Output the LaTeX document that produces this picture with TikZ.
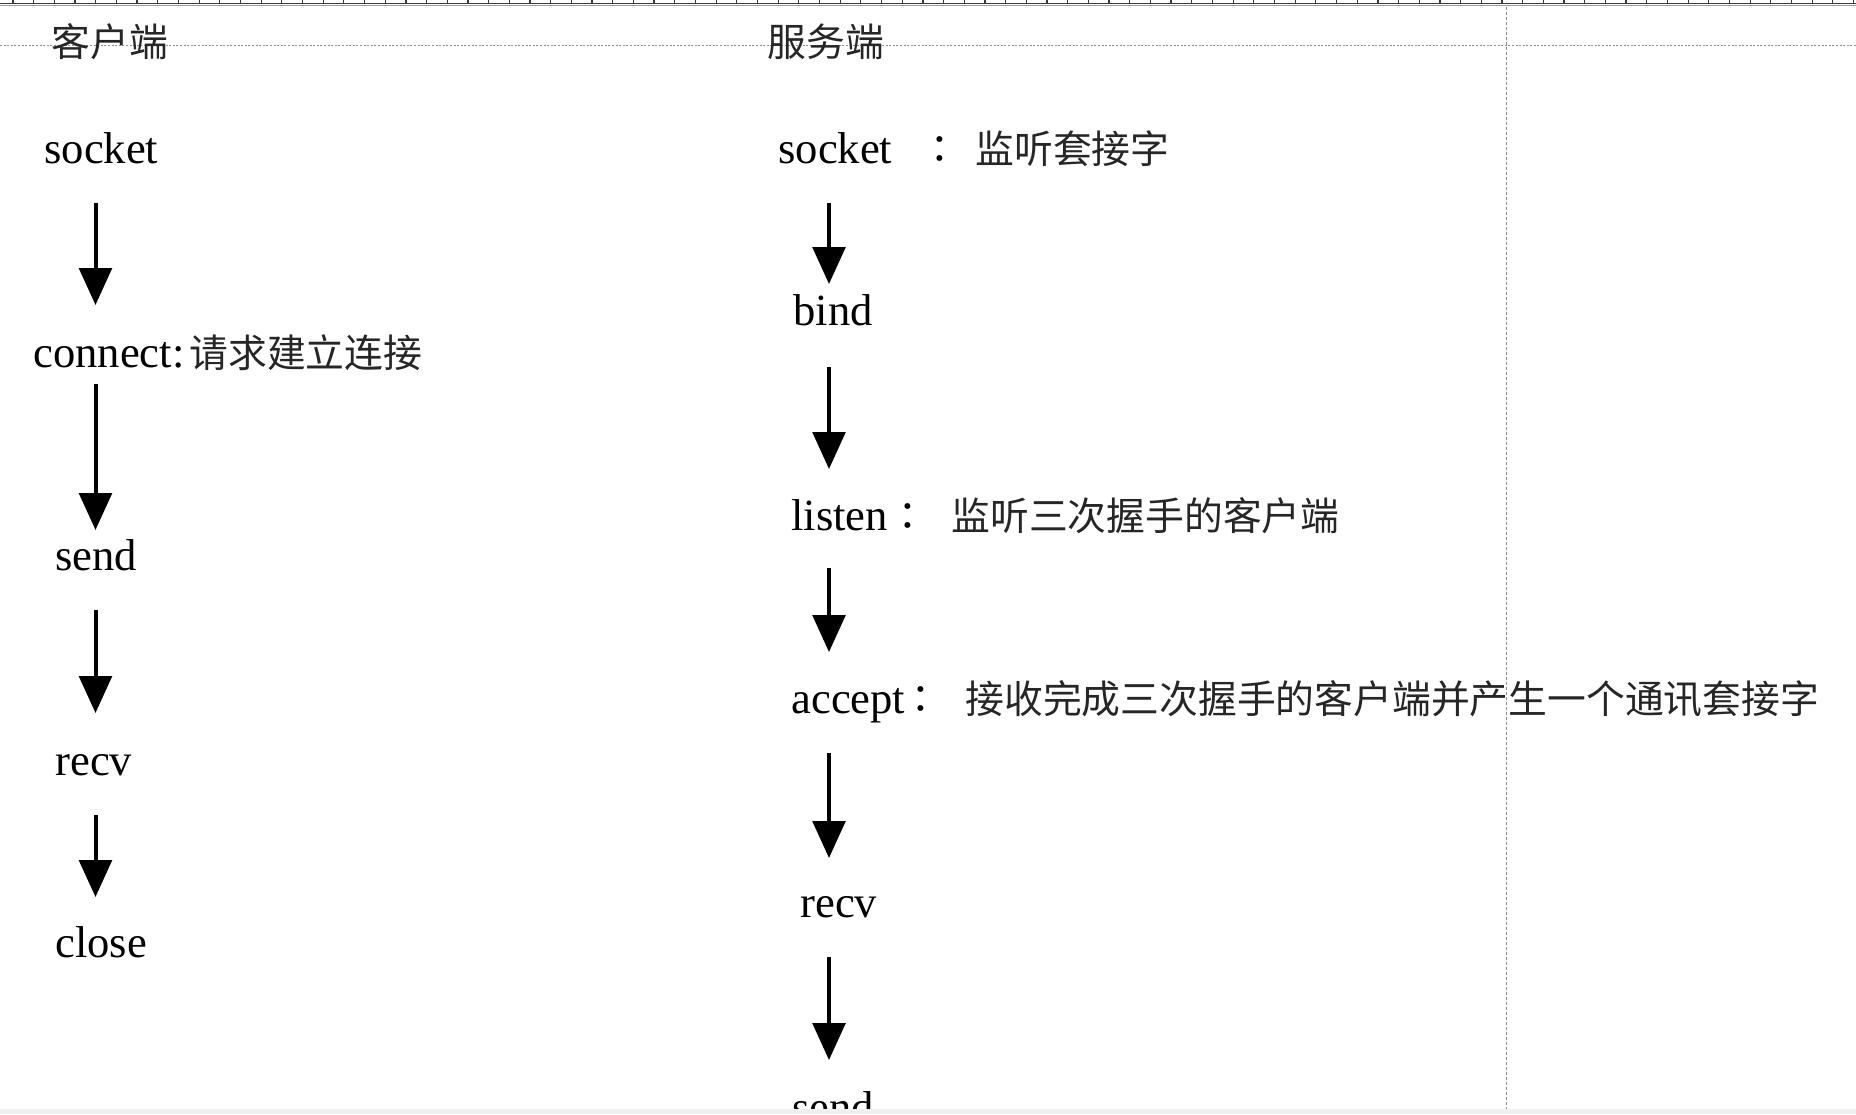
\documentclass[tikz,border=0pt]{standalone}
\usepackage{fontspec}
\setmainfont{Liberation Serif}
\newfontfamily\cjk{Noto Sans CJK SC}
\newfontfamily\cjktc{Noto Sans CJK TC}
\usetikzlibrary{arrows.meta}
\definecolor{rulerdark}{HTML}{3A3A3A}
\definecolor{rulerlight}{HTML}{9A9A9A}
\definecolor{guidegray}{HTML}{8C8C8C}
\definecolor{bandgray}{HTML}{EFEFEF}
\tikzset{
  lat/.style={anchor=base west, inner sep=0pt, font=\fontsize{22.3}{26}\selectfont},
  cjkt/.style={anchor=base west, inner sep=0pt, text=black!85, font=\cjk\fontsize{19.4}{22}\selectfont},
  colonmark/.style={anchor=base, inner sep=0pt, font=\cjktc\fontsize{19.4}{22}\selectfont},
  flow/.style={line width=2pt, -{Triangle[width=16.3pt,length=18.5pt]}},
  guide/.style={guidegray, line width=0.5pt, dash pattern=on 1pt off 0.8pt},
}
\begin{document}
\begin{tikzpicture}[x=0.5pt,y=-0.5pt]
\useasboundingbox (0,0) rectangle (1856,1114);
% ruler at top
\draw[rulerdark, line width=0.6pt] (0,3.3) -- (1856,3.3);
\draw[rulerlight, line width=0.5pt] (0,5) -- (1856,5);
\foreach \k in {0,...,89} {
  \draw[rulerdark, line width=0.6pt] ({13+20.68*\k},0) -- ({13+20.68*\k},3.3);
}
% guide lines
\draw[guide] (0,45) -- (1856,45);
\draw[guide, dash pattern=on 1.5pt off 1pt] (1506,7) -- (1506,1109);

% headers
\node[cjkt] (hc) at (51,56) {客户端};
\node[cjkt] (hs) at (767,56) {服务端};

% client column
\node[lat] (csock) at (44,163) {socket};
\node[lat] (cconn) at (33,367) {connect:};
\node[cjkt] (cconnt) at (189,367) {请求建立连接};
\node[lat] (csend) at (55,570) {send};
\node[lat] (crecv) at (55,775) {recv};
\node[lat] (cclose) at (55,957) {close};

\coordinate (ca1s) at (95.5,203);  \coordinate (ca1e) at (95.5,305);
\coordinate (ca2s) at (95.5,384);  \coordinate (ca2e) at (95.5,530);
\coordinate (ca3s) at (95.5,610);  \coordinate (ca3e) at (95.5,713);
\coordinate (ca4s) at (95.5,815);  \coordinate (ca4e) at (95.5,897);
\draw[flow] (ca1s) -- (ca1e);
\draw[flow] (ca2s) -- (ca2e);
\draw[flow] (ca3s) -- (ca3e);
\draw[flow] (ca4s) -- (ca4e);

% server column
\node[lat] (ssock) at (778,163) {socket};
\node[colonmark] (ssockc) at (940,163) {：};
\node[cjkt] (ssockt) at (975,163) {监听套接字};
\node[lat] (sbind) at (793,325) {bind};
\node[lat] (slisten) at (791,530) {listen};
\node[colonmark] (slistenc) at (908,530) {：};
\node[cjkt] (slistent) at (951,530) {监听三次握手的客户端};
\node[lat] (saccept) at (791,713) {accept};
\node[colonmark] (sacceptc) at (921,713) {：};
\node[cjkt] (sacceptt) at (965,713) {接收完成三次握手的客户端并产生一个通讯套接字};
\node[lat] (srecv) at (800,917) {recv};
\begin{scope}
  \clip (0,0) rectangle (1856,1109);
  \node[lat] (ssend) at (792,1122) {send};
\end{scope}

\coordinate (sa1s) at (829,203);  \coordinate (sa1e) at (829,284);
\coordinate (sa2s) at (829,367);  \coordinate (sa2e) at (829,469);
\coordinate (sa3s) at (829,568);  \coordinate (sa3e) at (829,652);
\coordinate (sa4s) at (829,753);  \coordinate (sa4e) at (829,858);
\coordinate (sa5s) at (829,957);  \coordinate (sa5e) at (829,1060);
\draw[flow] (sa1s) -- (sa1e);
\draw[flow] (sa2s) -- (sa2e);
\draw[flow] (sa3s) -- (sa3e);
\draw[flow] (sa4s) -- (sa4e);
\draw[flow] (sa5s) -- (sa5e);

% bottom band
\fill[bandgray] (0,1109) rectangle (1856,1114);
\end{tikzpicture}
\end{document}
